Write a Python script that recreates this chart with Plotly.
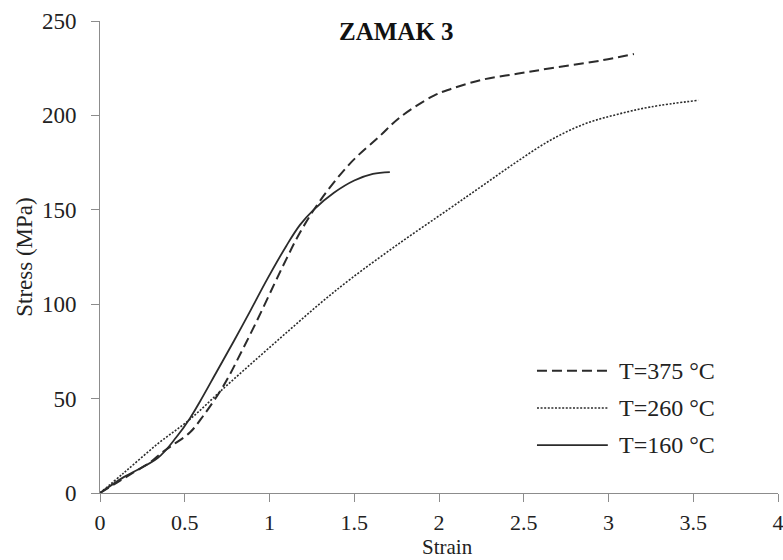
import plotly.graph_objects as go

# ---- data ----
series_names = ["T=375 °C", "T=260 °C", "T=160 °C"]

strain_375 = [0, 0.1, 0.2, 0.3, 0.36, 0.43, 0.53, 0.61, 0.73, 0.83, 0.93, 1.03, 1.10, 1.18,
              1.30, 1.48, 1.65, 1.77, 1.97, 2.07, 2.26, 2.46, 2.66, 2.95, 3.15]
stress_375 = [0, 5.5, 11, 16.5, 21, 25.5, 32, 41, 57, 74, 92, 111, 124, 138,
              155, 175, 189, 199, 210.5, 214, 219, 222, 225, 229, 232.5]

strain_260 = [0, 0.14, 0.34, 0.53, 0.73, 0.93, 1.12, 1.30, 1.48, 1.77, 2.06, 2.26,
              2.46, 2.66, 2.86, 3.05, 3.25, 3.53]
stress_260 = [0, 10.6, 26, 39, 55.5, 71.5, 86.5, 100.5, 113.5, 132.5, 150.5, 163,
              175.5, 187, 195.5, 200.5, 204.5, 208]

strain_160 = [0, 0.14, 0.34, 0.45, 0.53, 0.59, 0.69, 0.79, 0.89, 0.985, 1.10, 1.18, 1.26,
              1.38, 1.50, 1.61, 1.71]
stress_160 = [0, 8.4, 18.5, 29.5, 39.5, 48.5, 64.5, 80.5, 97, 113, 131, 142, 150,
              159, 165.5, 169, 170]

x_ticks = [0, 0.5, 1, 1.5, 2, 2.5, 3, 3.5, 4]
x_tick_labels = ["0", "0.5", "1", "1.5", "2", "2.5", "3", "3.5", "4"]
y_ticks = [0, 50, 100, 150, 200, 250]
y_tick_labels = ["0", "50", "100", "150", "200", "250"]

title_text = "ZAMAK 3"
x_title = "Strain"
y_title = "Stress (MPa)"

# ---- styles ----
LINE_COL = "#2b2b2b"
styles = [
    dict(color=LINE_COL, width=2, dash="10px,5px"),
    dict(color=LINE_COL, width=1.6, dash="2px,1.6px"),
    dict(color=LINE_COL, width=1.8, dash="solid"),
]
FONT = "Liberation Serif, Times New Roman, serif"

fig = go.Figure()
for name, xs, ys, st in zip(series_names,
                            [strain_375, strain_260, strain_160],
                            [stress_375, stress_260, stress_160],
                            styles):
    fig.add_trace(go.Scatter(x=xs, y=ys, mode="lines", name=name,
                             line=dict(shape="spline", smoothing=1.0, **st),
                             showlegend=False))

# custom legend (long sample lines like the reference)
leg_y = [0.259, 0.180, 0.1015]
for name, st, yy in zip(series_names, styles, leg_y):
    fig.add_shape(type="line", xref="paper", yref="paper",
                  x0=0.6445, x1=0.749, y0=yy, y1=yy,
                  line=dict(color=st["color"], width=st["width"], dash=st["dash"]))
    fig.add_annotation(xref="paper", yref="paper", x=0.7625, y=yy,
                       text=name, showarrow=False, xanchor="left", yanchor="middle",
                       font=dict(family=FONT, size=24, color="#222"))

fig.add_annotation(xref="paper", yref="paper", x=0.438, y=0.978,
                   text="<b>" + title_text + "</b>", showarrow=False,
                   xanchor="center", yanchor="middle",
                   font=dict(family=FONT, size=25, color="#111"))

# x-axis title placed at the very bottom like the reference
fig.add_annotation(xref="paper", yref="paper", x=0.512, y=-0.143,
                   text=x_title, showarrow=False, xanchor="center", yanchor="bottom",
                   yshift=-1, font=dict(family=FONT, size=21, color="#222"))

axis_col = "#8c8c8c"
fig.update_layout(
    width=783, height=560,
    margin=dict(l=100, r=5, t=21, b=67),
    paper_bgcolor="white", plot_bgcolor="white",
    font=dict(family=FONT, size=23, color="#222"),
    xaxis=dict(range=[0, 4], tickvals=x_ticks, ticktext=x_tick_labels,
               showgrid=False, zeroline=False, showline=True, linecolor=axis_col,
               linewidth=1, ticks="outside", ticklen=8, tickcolor=axis_col,
               tickfont=dict(size=22),
               ticklabelstandoff=2, ticklabeloverflow="allow", automargin=False),
    yaxis=dict(range=[0, 250], tickvals=y_ticks, ticktext=y_tick_labels,
               showgrid=False, zeroline=False, showline=True, linecolor=axis_col,
               linewidth=1, ticks="outside", ticklen=8, tickcolor=axis_col,
               ticklabelstandoff=10, automargin=False,
               title=dict(text=y_title, standoff=2, font=dict(size=23))),
)

fig.write_html("out.html")
